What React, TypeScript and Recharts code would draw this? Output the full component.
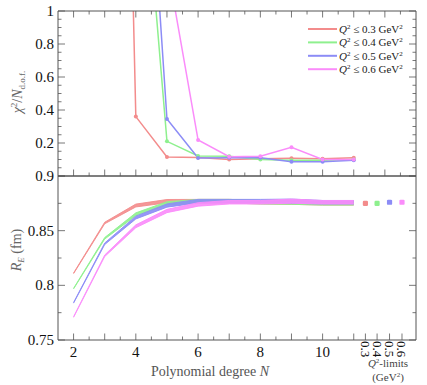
import { ComposedChart, LineChart, Line, Area, Scatter, XAxis, YAxis } from 'recharts';

// Polynomial degree N used in the fits
const N = [2, 3, 4, 5, 6, 7, 8, 9, 10, 11];

const SERIES = ['q03', 'q04', 'q05', 'q06'];
const LIMITS = ['0.3', '0.4', '0.5', '0.6'];
const COLORS = ['#f38c8c', '#8ef08e', '#8c8cf6', '#fa8cfa'];

// chi^2 / N_dof (values above 1 leave the panel)
const chi03 = [20, 8.4, 0.36, 0.115, 0.112, 0.1, 0.105, 0.107, 0.105, 0.11];
const chi04 = [30, 12, 2.47, 0.21, 0.121, 0.12, 0.1, 0.095, 0.095, 0.1];
const chi05 = [30, 15, 3.19, 0.345, 0.109, 0.11, 0.11, 0.087, 0.087, 0.095];
const chi06 = [40, 20, 8, 1.29, 0.218, 0.117, 0.12, 0.174, 0.1, 0.1];

// R_E (fm) central values and half band widths
const re03 = [0.811, 0.857, 0.873, 0.877, 0.877, 0.877, 0.876, 0.876, 0.875, 0.875];
const re04 = [0.797, 0.843, 0.865, 0.875, 0.877, 0.877, 0.876, 0.876, 0.875, 0.875];
const re05 = [0.784, 0.838, 0.862, 0.873, 0.877, 0.877, 0.877, 0.877, 0.876, 0.876];
const re06 = [0.771, 0.827, 0.854, 0.868, 0.874, 0.876, 0.876, 0.877, 0.876, 0.876];
const reErr = [0.0003, 0.0007, 0.0013, 0.0015, 0.0016, 0.0016, 0.0016, 0.0019, 0.0016, 0.0016];

// extra points at the right: Q^2-limit results
const limitX = [11.375, 11.75, 12.15, 12.55];
const limitRE = [0.875, 0.875, 0.876, 0.876];

const chiTicks = [0, 0.05, 0.1, 0.15, 0.2, 0.25, 0.3, 0.35, 0.4, 0.45, 0.5, 0.55, 0.6, 0.65, 0.7, 0.75, 0.8, 0.85, 0.9, 0.95, 1];
const chiLabels = [0.2, 0.4, 0.6, 0.8, 1];
const reTicks = [0.75, 0.775, 0.8, 0.825, 0.85, 0.875, 0.9];
const reLabels = [0.75, 0.8, 0.85, 0.9];
const xTicksTop = [2, 2.5, 3, 3.5, 4, 4.5, 5, 5.5, 6, 6.5, 7, 7.5, 8, 8.5, 9, 9.5, 10, 10.5, 11, 11.5, 12, 12.5];
const xTicksBottom = [2, 2.5, 3, 3.5, 4, 4.5, 5, 5.5, 6, 6.5, 7, 7.5, 8, 8.5, 9, 9.5, 10, 10.5, 11, ...limitX];
const xLabels = [2, 4, 6, 8, 10];

const chiSets = [chi03, chi04, chi05, chi06];
const reSets = [re03, re04, re05, re06];

const chiRows = N.map((n, i) => {
  const row: Record<string, number> = { n };
  SERIES.forEach((k, j) => (row[k] = chiSets[j][i]));
  return row;
});

const reRows = N.map((n, i) => {
  const row: Record<string, any> = { n };
  SERIES.forEach((k, j) => (row[k] = [reSets[j][i] - reErr[i], reSets[j][i] + reErr[i]]));
  return row;
});

const AX = '#555';
const FONT = '"Liberation Serif", "DejaVu Serif", serif';
const has = (arr: number[], v: number) => arr.some((a) => Math.abs(a - v) < 1e-6);

const leftTick = (labels: number[]) => (p: any) => {
  const v = p.payload.value;
  const major = has(labels, v) || v === 0;
  return (
    <g>
      <line x1={p.x} y1={p.y} x2={p.x + (major ? 7 : 3.5)} y2={p.y} stroke={AX} strokeWidth={0.8} />
      {has(labels, v) && (
        <text x={p.x - 4} y={p.y} dy={5} textAnchor="end" fontSize={15} fill="#111" fontFamily={FONT}>
          {String(v)}
        </text>
      )}
    </g>
  );
};

const rightTick = (labels: number[]) => (p: any) => {
  const v = p.payload.value;
  const major = has(labels, v) || v === 0;
  return <line x1={p.x} y1={p.y} x2={p.x - (major ? 7 : 3.5)} y2={p.y} stroke={AX} strokeWidth={0.8} />;
};

const xTick = (dir: number, withLabels: boolean) => (p: any) => {
  const v = p.payload.value;
  const li = limitX.findIndex((a) => Math.abs(a - v) < 1e-6);
  const len = Number.isInteger(v) || li >= 0 ? 6.5 : 3.5;
  return (
    <g>
      <line x1={p.x} y1={p.y} x2={p.x} y2={p.y + dir * len} stroke={AX} strokeWidth={0.8} />
      {withLabels && has(xLabels, v) && (
        <text x={p.x} y={p.y + 17} textAnchor="middle" fontSize={15} fill="#111" fontFamily={FONT}>
          {String(v)}
        </text>
      )}
      {withLabels && li >= 0 && (
        <text
          x={p.x}
          y={p.y + 1}
          transform={`rotate(90 ${p.x} ${p.y + 1})`}
          dy={4.5}
          textAnchor="start"
          fontSize={13}
          fill="#111"
          fontFamily={FONT}
        >
          {LIMITS[li]}
        </text>
      )}
    </g>
  );
};

const abs = (s: any) => ({ position: 'absolute' as const, ...s });

export default function App() {
  return (
    <div style={abs({ left: 0, top: 0, width: 427, height: 385, background: '#fff' })}>
      <div style={abs({ left: 0, top: 0 })}>
        <LineChart width={427} height={180} data={chiRows} margin={{ top: 0, right: 0, bottom: 0, left: 0 }}>
          <XAxis dataKey="n" type="number" domain={[1.5, 13]} ticks={xTicksTop} interval={0} height={4} tickSize={0} tickMargin={0} stroke={AX} tick={xTick(-1, false)} allowDataOverflow />
          <XAxis xAxisId="t" orientation="top" dataKey="n" type="number" domain={[1.5, 13]} ticks={xTicksTop} interval={0} height={11} tickSize={0} tickMargin={0} stroke={AX} tick={xTick(1, false)} allowDataOverflow />
          <YAxis type="number" domain={[0, 1]} ticks={chiTicks} interval={0} width={58} tickSize={0} tickMargin={0} stroke={AX} tick={leftTick(chiLabels)} allowDataOverflow />
          <YAxis yAxisId="r" orientation="right" type="number" domain={[0, 1]} ticks={chiTicks} interval={0} width={11} tickSize={0} tickMargin={0} stroke={AX} tick={rightTick(chiLabels)} allowDataOverflow />
          {SERIES.map((k, j) => (
            <Line
              key={k}
              type="linear"
              dataKey={k}
              stroke={COLORS[j]}
              strokeWidth={1.5}
              dot={{ r: 2, fill: COLORS[j], stroke: 'none' }}
              activeDot={false}
              isAnimationActive={false}
            />
          ))}
        </LineChart>
      </div>

      <div style={abs({ left: 0, top: 168 })}>
        <ComposedChart width={427} height={217} data={reRows} margin={{ top: 8, right: 0, bottom: 0, left: 0 }}>
          <XAxis dataKey="n" type="number" domain={[1.5, 13]} ticks={xTicksBottom} interval={0} height={45} tickSize={0} tickMargin={0} stroke={AX} tick={xTick(-1, true)} allowDataOverflow />
          <YAxis type="number" domain={[0.75, 0.9]} ticks={reTicks} interval={0} width={58} tickSize={0} tickMargin={0} stroke={AX} tick={leftTick(reLabels)} allowDataOverflow />
          <YAxis yAxisId="r" orientation="right" type="number" domain={[0.75, 0.9]} ticks={reTicks} interval={0} width={11} tickSize={0} tickMargin={0} stroke={AX} tick={rightTick(reLabels)} allowDataOverflow />
          {SERIES.map((k, j) => (
            <Area
              key={k}
              type="linear"
              dataKey={k}
              stroke={COLORS[j]}
              strokeWidth={0.9}
              fill={COLORS[j]}
              fillOpacity={0.9}
              dot={false}
              activeDot={false}
              isAnimationActive={false}
            />
          ))}
          {SERIES.map((k, j) => (
            <Scatter
              key={'s' + k}
              data={[{ n: limitX[j], v: limitRE[j] }]}
              dataKey="v"
              fill={COLORS[j]}
              shape={(p: any) => <rect x={p.cx - 2.6} y={p.cy - 2.6} width={5.2} height={5.2} rx={1.2} fill={COLORS[j]} />}
              isAnimationActive={false}
            />
          ))}
        </ComposedChart>
      </div>

      {/* frame line, legend and titles */}
      <svg width={427} height={385} style={abs({ left: 0, top: 0, pointerEvents: 'none' })} fontFamily={FONT}>
        <line x1={58} x2={416} y1={176} y2={176} stroke={AX} strokeWidth={1} />
        {LIMITS.map((l, j) => {
          const y = 29 + j * 13.4;
          return (
            <g key={l}>
              <line x1={308} x2={337} y1={y} y2={y} stroke={COLORS[j]} strokeWidth={2} />
              <text x={339} y={y + 4} fontSize={11} fill="#222">
                <tspan fontStyle="italic">Q</tspan>
                <tspan dy={-4} fontSize={7}>2</tspan>
                <tspan dy={4}> ≤ {l} GeV</tspan>
                <tspan dy={-4} fontSize={7}>2</tspan>
              </text>
            </g>
          );
        })}
        <text transform="rotate(-90 18 92)" x={18} y={92} dy={4} textAnchor="middle" fontSize={14} fill="#666">
          <tspan fontStyle="italic">χ</tspan>
          <tspan dy={-5} fontSize={9}>2</tspan>
          <tspan dy={5}>/</tspan>
          <tspan fontStyle="italic">N</tspan>
          <tspan dy={3} fontSize={9}>d.o.f.</tspan>
        </text>
        <text transform="rotate(-90 17 250)" x={17} y={250} dy={4} textAnchor="middle" fontSize={14} fill="#666">
          <tspan fontStyle="italic">R</tspan>
          <tspan dy={3} fontSize={9} fontStyle="italic">E</tspan>
          <tspan dy={-3}> (fm)</tspan>
        </text>
        <text x={210} y={376} textAnchor="middle" fontSize={14} fill="#555">
          Polynomial degree <tspan fontStyle="italic">N</tspan>
        </text>
        <text x={388} y={367} textAnchor="middle" fontSize={11} fill="#444">
          <tspan fontStyle="italic">Q</tspan>
          <tspan dy={-4} fontSize={7}>2</tspan>
          <tspan dy={4}>-limits</tspan>
        </text>
        <text x={388} y={381} textAnchor="middle" fontSize={11} fill="#444">
          (GeV<tspan dy={-4} fontSize={7}>2</tspan>
          <tspan dy={4}>)</tspan>
        </text>
      </svg>
    </div>
  );
}
